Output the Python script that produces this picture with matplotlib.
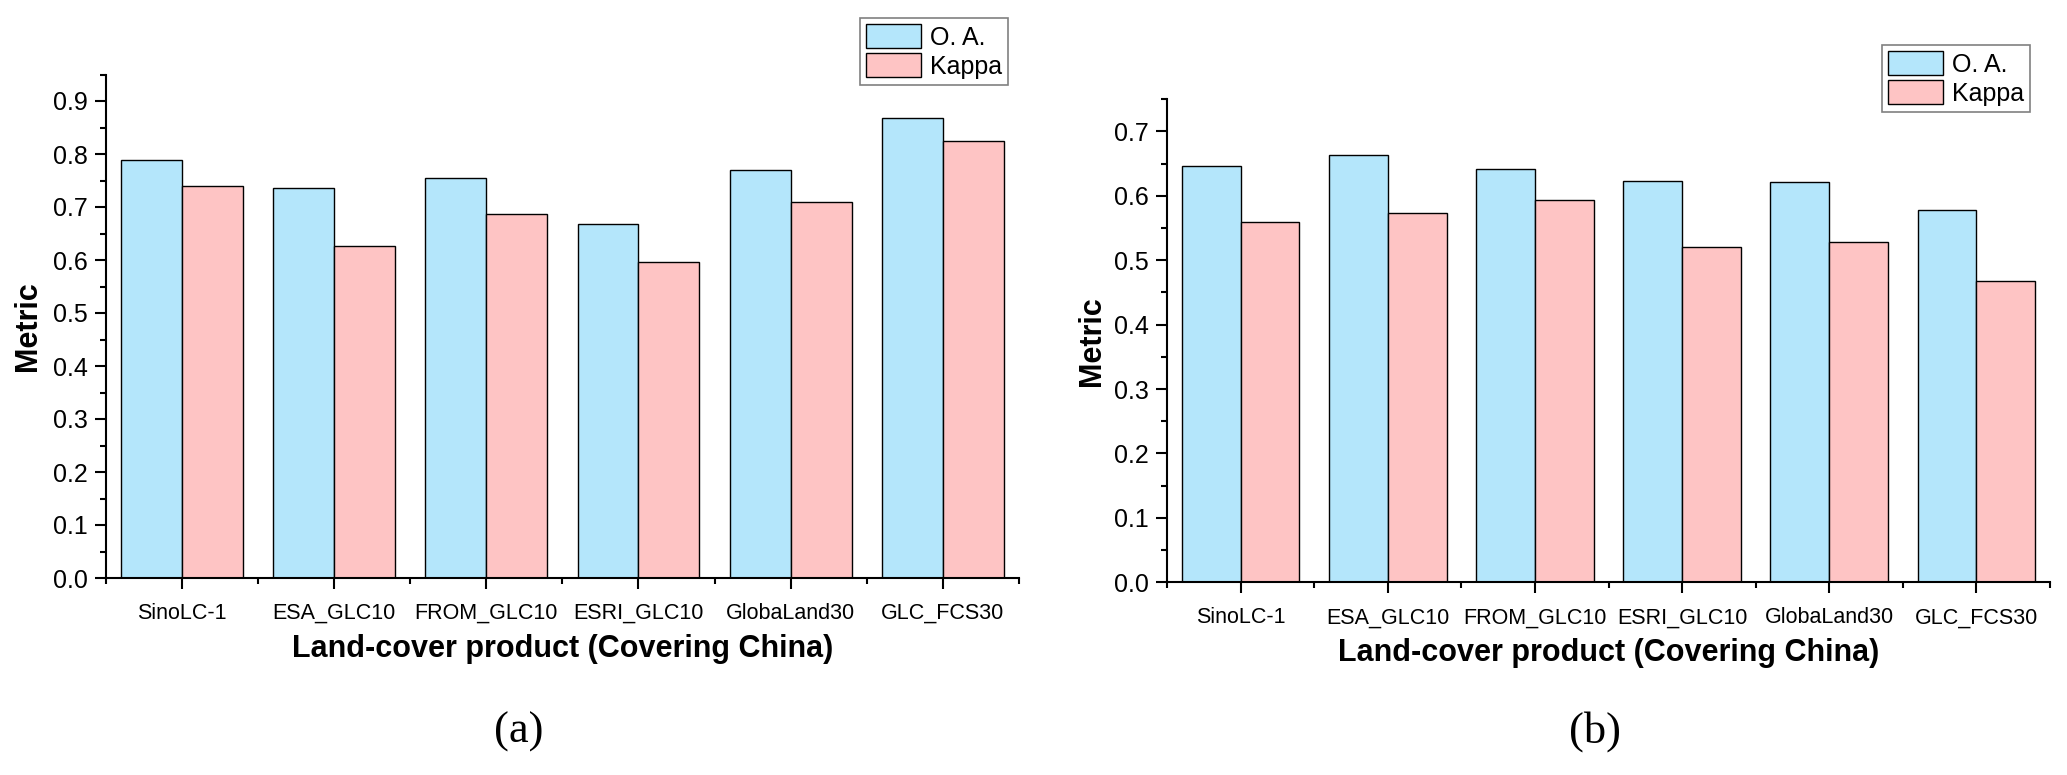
import matplotlib
matplotlib.use("Agg")
import matplotlib.pyplot as plt
import numpy as np
from matplotlib.ticker import MultipleLocator, FixedLocator

plt.rcParams['font.family'] = ['Liberation Sans', 'DejaVu Sans']

products = ["SinoLC-1", "ESA_GLC10", "FROM_GLC10", "ESRI_GLC10", "GlobaLand30", "GLC_FCS30"]
oa_a = [0.788, 0.736, 0.754, 0.668, 0.769, 0.868]
kappa_a = [0.740, 0.627, 0.687, 0.597, 0.710, 0.824]
oa_b = [0.647, 0.664, 0.641, 0.623, 0.621, 0.578]
kappa_b = [0.559, 0.573, 0.594, 0.521, 0.529, 0.468]
series_names = ["O. A.", "Kappa"]
panel_labels = ["(a)", "(b)"]
xlabel = "Land-cover product (Covering China)"
ylabel = "Metric"

c_oa = "#b4e6fb"
c_k = "#fec4c4"

W, H = 2067, 775
fig = plt.figure(figsize=(W / 100, H / 100), dpi=100)

def fx(p):
    return p / W

def fy(p):
    return 1 - p / H

panels = [
    dict(oa=oa_a, k=kappa_a, ylim=0.95, rect=[fx(105.7), 1 - 578 / H, fx(1019 - 105.7), 503.5 / H],
         leg=(fx(1008), fy(18)), lab=(fx(519), fy(732)), ylab_x=43, ax_left=105.7),
    dict(oa=oa_b, k=kappa_b, ylim=0.75, rect=[fx(1167), 1 - 582.3 / H, fx(2050 - 1167), 483 / H],
         leg=(fx(2030), fy(45)), lab=(fx(1595), fy(732)), ylab_x=1107, ax_left=1167),
]

for i, p in enumerate(panels):
    ax = fig.add_axes(p["rect"])
    x = np.arange(1, len(products) + 1)
    w = 0.4
    b1 = ax.bar(x - w / 2, p["oa"], w, color=c_oa, edgecolor="black", linewidth=1.0, label=series_names[0])
    b2 = ax.bar(x + w / 2, p["k"], w, color=c_k, edgecolor="black", linewidth=1.0, label=series_names[1])
    ax.set_xlim(0.5, len(products) + 0.5)
    ax.set_ylim(0, p["ylim"])
    ax.spines["top"].set_visible(False)
    ax.spines["right"].set_visible(False)
    ax.spines["left"].set_linewidth(1.5)
    ax.spines["bottom"].set_linewidth(1.5)
    ax.set_xticks(x)
    ax.set_xticklabels(products, fontsize=15.5)
    ax.xaxis.set_minor_locator(FixedLocator(np.arange(0.5, len(products) + 1, 1.0)))
    ax.yaxis.set_major_locator(MultipleLocator(0.1))
    ax.yaxis.set_minor_locator(MultipleLocator(0.05))
    ax.yaxis.set_major_formatter(matplotlib.ticker.FormatStrFormatter("%.1f"))
    ax.tick_params(axis="both", which="major", direction="out", length=8, width=1.5)
    ax.tick_params(axis="both", which="minor", direction="out", length=4, width=1.5)
    ax.tick_params(axis="y", labelsize=18, pad=5)
    ax.tick_params(axis="x", pad=10)
    ax.set_xlabel(xlabel, fontsize=22, fontweight="bold", labelpad=7)
    ax.set_ylabel(ylabel, fontsize=22, fontweight="bold")
    ax.yaxis.set_label_coords((p["ylab_x"] - p["ax_left"]) / (p["rect"][2] * W), 0.5)
    leg = fig.legend(handles=[b1, b2], loc="upper right", bbox_to_anchor=p["leg"],
                     bbox_transform=fig.transFigure, borderaxespad=0, fontsize=18,
                     handlelength=2.2, handleheight=1.07, labelspacing=0.15,
                     handletextpad=0.35, borderpad=0.25, fancybox=False, framealpha=1)
    leg.get_frame().set_edgecolor("#808080")
    leg.get_frame().set_linewidth(1.2)
    fig.text(p["lab"][0], p["lab"][1], panel_labels[i], ha="center", va="center",
             fontsize=32, family=["Liberation Serif", "DejaVu Serif"])

fig.savefig("out.png", dpi=100)
